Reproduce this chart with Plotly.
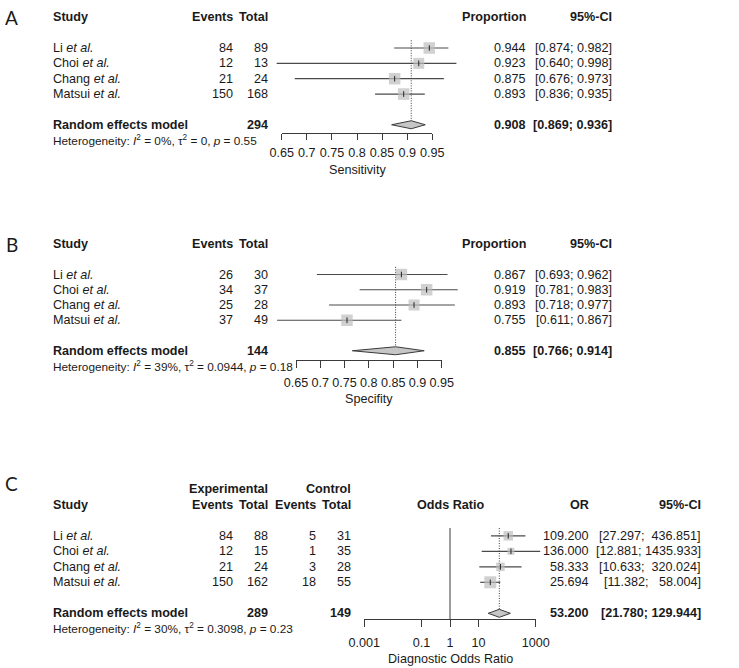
import plotly.graph_objects as go

W, H = 739, 668

# ------------------------------------------------------------------ data
studies = ["Li", "Choi", "Chang", "Matsui"]

# Panel A - sensitivity
sens_events = [84, 12, 21, 150]
sens_total = [89, 13, 24, 168]
sens_prop = [0.944, 0.923, 0.875, 0.893]
sens_lo = [0.874, 0.640, 0.676, 0.836]
sens_hi = [0.982, 0.998, 0.973, 0.935]
sens_pooled = [0.908, 0.869, 0.936]          # estimate, lower, upper
sens_n = 294
sens_het = ["0%", "0", "0.55"]               # I2, tau2, p

# Panel B - specificity
spec_events = [26, 34, 25, 37]
spec_total = [30, 37, 28, 49]
spec_prop = [0.867, 0.919, 0.893, 0.755]
spec_lo = [0.693, 0.781, 0.718, 0.611]
spec_hi = [0.962, 0.983, 0.977, 0.867]
spec_pooled = [0.855, 0.766, 0.914]
spec_n = 144
spec_het = ["39%", "0.0944", "0.18"]

# Panel C - diagnostic odds ratio
dor_exp_events = [84, 12, 21, 150]
dor_exp_total = [88, 15, 24, 162]
dor_ctl_events = [5, 1, 3, 18]
dor_ctl_total = [31, 35, 28, 55]
dor_or = [109.200, 136.000, 58.333, 25.694]
dor_lo = [27.297, 12.881, 10.633, 11.382]
dor_hi = [436.851, 1435.933, 320.024, 58.004]
dor_pooled = [53.200, 21.780, 129.944]
dor_exp_n = 289
dor_ctl_n = 149
dor_het = ["30%", "0.3098", "0.23"]
dor_null = 1

prop_ticks = [0.65, 0.70, 0.75, 0.80, 0.85, 0.90, 0.95]
prop_ticklabels = ["0.65", "0.7", "0.75", "0.8", "0.85", "0.9", "0.95"]
or_ticks = [0.001, 0.1, 1, 10, 1000]
or_ticklabels = ["0.001", "0.1", "1", "10", "1000"]

# ------------------------------------------------------------------ style
FONT = "Liberation Sans, Arial, Helvetica, sans-serif"
FS = 12.6
FS_HET = 11.8
TXT = "#1a1a1a"
LINE = "#3a3a3a"
CI_LINE = "#4a4a4a"
SQ = "#bdbdbd"
DIA = "#c6c6c6"

sq_size_A = [11.5, 11, 11.5, 11.5]
sq_size_B = [11.5, 11.5, 11, 11.5]
sq_size_C = [9.5, 7, 8.5, 12]

# panel geometry in pixels
panels = {
    "A": dict(first=48.0, step=15.35, ydom=(5, 185), xdom=(262, 470),
              ref_val=0.65, ref_px=281.7, ppu=502.0, log=False,
              ax_y=133.3, ax_range=(0.65, 0.95), ticklen=6, stand=2,
              title="Sensitivity", title_y=170.0),
    "B": dict(first=274.5, step=15.25, ydom=(228, 410), xdom=(270, 470),
              ref_val=0.65, ref_px=296.0, ppu=485.7, log=False,
              ax_y=360.0, ax_range=(0.65, 0.95), ticklen=6.5, stand=4,
              title="Specifity", title_y=399.0),
    "C": dict(first=535.8, step=15.5, ydom=(470, 666), xdom=(350, 560),
              ref_val=0.0, ref_px=450.0, ppu=28.57, log=True,
              ax_y=619.3, ax_range=(-3, 3), ticklen=7, stand=5,
              title="Diagnostic Odds Ratio", title_y=659.0),
}


def px_val(p, spec):
    return spec["ref_val"] + (p - spec["ref_px"]) / spec["ppu"]


def row_of(p, spec):
    return 1 + (p - spec["first"]) / spec["step"]


def val_px(v, spec):
    return spec["ref_px"] + (v - spec["ref_val"]) * spec["ppu"]


fig = go.Figure()
annotations = []
layout_axes = {}


def ann(text, xpx, row, yref, anchor="left", size=FS, bold=False):
    if bold:
        text = f"<b>{text}</b>"
    annotations.append(dict(
        text=text, x=xpx / W, xref="paper", y=row, yref=yref,
        xanchor=anchor, yanchor="middle", showarrow=False,
        font=dict(family=FONT, size=size, color=TXT)))


def het_text(vals):
    return (f"Heterogeneity: <i>I</i><sup>2</sup> = {vals[0]}, "
            f"τ<sup>2</sup> = {vals[1]}, <i>p</i> = {vals[2]}")


def ci_text(lo, hi, width=None):
    h = f"{hi:.3f}"
    if width:
        h = "\u00a0" * (width - len(h)) + h
    return f"[{lo:.3f};\u00a0{h}]"


def build_panel(idx, key, est, lo, hi, pooled, sizes):
    spec = panels[key]
    xa, ya = f"x{idx}", f"y{idx}"
    xd, yd = f"x{idx + 3}", f"y{idx + 3}"
    rows = list(range(1, len(est) + 1))
    pooled_row = len(est) + 2
    hh = 4.0 / spec["step"]

    # data axes
    x0, x1 = spec["xdom"]
    xrange = [px_val(x0, spec), px_val(x1, spec)]
    top, bot = spec["ydom"]
    layout_axes[f"xaxis{idx}"] = dict(
        domain=[x0 / W, x1 / W], range=xrange, visible=False,
        type="log" if spec["log"] else "linear", anchor=ya, fixedrange=True)
    layout_axes[f"yaxis{idx}"] = dict(
        domain=[1 - bot / H, 1 - top / H],
        range=[row_of(bot, spec), row_of(top, spec)],
        visible=False, anchor=xa, fixedrange=True)

    # display axis
    r0, r1 = spec["ax_range"]
    d0, d1 = val_px(r0, spec), val_px(r1, spec)
    yb = 1 - spec["ax_y"] / H
    layout_axes[f"xaxis{idx + 3}"] = dict(
        domain=[d0 / W, d1 / W], range=[r0, r1],
        type="log" if spec["log"] else "linear", anchor=yd,
        showline=True, linecolor=LINE, linewidth=1,
        ticks="outside", ticklen=spec["ticklen"], tickwidth=1, tickcolor=LINE,
        tickvals=or_ticks if spec["log"] else prop_ticks,
        ticktext=or_ticklabels if spec["log"] else prop_ticklabels,
        ticklabelstandoff=spec["stand"],
        tickfont=dict(family=FONT, size=FS, color=TXT),
        showgrid=False, zeroline=False, fixedrange=True, automargin=False)
    layout_axes[f"yaxis{idx + 3}"] = dict(
        domain=[yb, yb + 0.004], range=[0, 1], visible=False,
        anchor=xd, fixedrange=True)
    fig.add_trace(go.Scatter(
        x=[1 if spec["log"] else r0], y=[0.5], xaxis=xd, yaxis=yd,
        mode="markers", marker=dict(opacity=0), hoverinfo="skip",
        showlegend=False))

    # null line (panel C)
    if spec["log"]:
        fig.add_trace(go.Scatter(
            x=[dor_null, dor_null], y=[0.5, row_of(spec["ax_y"], spec)],
            xaxis=xa, yaxis=ya, mode="lines",
            line=dict(color=LINE, width=1), hoverinfo="skip", showlegend=False))

    # pooled estimate dotted line
    fig.add_trace(go.Scatter(
        x=[pooled[0], pooled[0]], y=[0.5, pooled_row - hh],
        xaxis=xa, yaxis=ya, mode="lines",
        line=dict(color=LINE, width=1, dash="1px,1.5px"),
        hoverinfo="skip", showlegend=False))

    # confidence intervals
    cx, cy = [], []
    for r, l, h in zip(rows, lo, hi):
        cx += [l, h, None]
        cy += [r, r, None]
    fig.add_trace(go.Scatter(
        x=cx, y=cy, xaxis=xa, yaxis=ya, mode="lines",
        line=dict(color=CI_LINE, width=1.2), hoverinfo="skip", showlegend=False))

    # squares
    fig.add_trace(go.Scatter(
        x=est, y=rows, xaxis=xa, yaxis=ya, mode="markers",
        marker=dict(symbol="square", size=sizes, color=SQ, line=dict(width=0)),
        cliponaxis=False, hoverinfo="skip", showlegend=False))
    # point ticks
    fig.add_trace(go.Scatter(
        x=est, y=rows, xaxis=xa, yaxis=ya, mode="markers",
        marker=dict(symbol="line-ns", size=4, color="#222",
                    line=dict(width=1, color="#222")),
        cliponaxis=False, hoverinfo="skip", showlegend=False))

    # diamond
    fig.add_trace(go.Scatter(
        x=[pooled[1], pooled[0], pooled[2], pooled[0], pooled[1]],
        y=[pooled_row, pooled_row - hh, pooled_row, pooled_row + hh, pooled_row],
        xaxis=xa, yaxis=ya, mode="lines", fill="toself", fillcolor=DIA,
        line=dict(color=LINE, width=1), hoverinfo="skip", showlegend=False))

    # axis title
    annotations.append(dict(
        text=spec["title"], x=(d0 + d1) / 2 / W, xref="paper",
        y=1 - spec["title_y"] / H, yref="paper", xanchor="center",
        yanchor="middle", showarrow=False,
        font=dict(family=FONT, size=FS, color=TXT)))
    return ya, pooled_row


# ------------------------------------------------------------------ panel A
ya, pr = build_panel(1, "A", sens_prop, sens_lo, sens_hi, sens_pooled, sq_size_A)
ann("A", 3, -1, ya, size=19)
annotations[-1]["font"]["family"] = "Lato, Noto Sans, sans-serif"
ann("Study", 51, -1, ya, bold=True)
ann("Events", 234.5, -1, ya, "right", bold=True)
ann("Total", 269.5, -1, ya, "right", bold=True)
ann("Proportion", 528, -1, ya, "right", bold=True)
ann("95%-CI", 613.5, -1, ya, "right", bold=True)
for i, s in enumerate(studies):
    r = i + 1
    ann(f"{s} <i>et al.</i>", 51, r, ya)
    ann(str(sens_events[i]), 234.5, r, ya, "right")
    ann(str(sens_total[i]), 269.5, r, ya, "right")
    ann(f"{sens_prop[i]:.3f}", 528, r, ya, "right")
    ann(ci_text(sens_lo[i], sens_hi[i]), 613.5, r, ya, "right")
ann("Random effects model", 51, pr, ya, bold=True)
ann(str(sens_n), 269.5, pr, ya, "right", bold=True)
ann(f"{sens_pooled[0]:.3f}", 528, pr, ya, "right", bold=True)
ann(ci_text(sens_pooled[1], sens_pooled[2]), 613.5, pr, ya, "right", bold=True)
ann(het_text(sens_het), 51, pr + 1, ya, size=FS_HET)

# ------------------------------------------------------------------ panel B
ya, pr = build_panel(2, "B", spec_prop, spec_lo, spec_hi, spec_pooled, sq_size_B)
ann("B", 4, -1, ya, size=19)
annotations[-1]["font"]["family"] = "Lato, Noto Sans, sans-serif"
ann("Study", 51, -1, ya, bold=True)
ann("Events", 234.5, -1, ya, "right", bold=True)
ann("Total", 269.5, -1, ya, "right", bold=True)
ann("Proportion", 528, -1, ya, "right", bold=True)
ann("95%-CI", 613.5, -1, ya, "right", bold=True)
for i, s in enumerate(studies):
    r = i + 1
    ann(f"{s} <i>et al.</i>", 51, r, ya)
    ann(str(spec_events[i]), 234.5, r, ya, "right")
    ann(str(spec_total[i]), 269.5, r, ya, "right")
    ann(f"{spec_prop[i]:.3f}", 528, r, ya, "right")
    ann(ci_text(spec_lo[i], spec_hi[i]), 613.5, r, ya, "right")
ann("Random effects model", 51, pr, ya, bold=True)
ann(str(spec_n), 269.5, pr, ya, "right", bold=True)
ann(f"{spec_pooled[0]:.3f}", 528, pr, ya, "right", bold=True)
ann(ci_text(spec_pooled[1], spec_pooled[2]), 613.5, pr, ya, "right", bold=True)
ann(het_text(spec_het), 51, pr + 1, ya, size=FS_HET)

# ------------------------------------------------------------------ panel C
ya, pr = build_panel(3, "C", dor_or, dor_lo, dor_hi, dor_pooled, sq_size_C)
ann("C", 3, -2.4, ya, size=19)
annotations[-1]["font"]["family"] = "Lato, Noto Sans, sans-serif"
ann("Experimental", 270, -2, ya, "right", bold=True)
ann("Control", 352.7, -2, ya, "right", bold=True)
ann("Study", 51, -1, ya, bold=True)
ann("Events", 235, -1, ya, "right", bold=True)
ann("Total", 270, -1, ya, "right", bold=True)
ann("Events", 318.3, -1, ya, "right", bold=True)
ann("Total", 352.7, -1, ya, "right", bold=True)
ann("Odds Ratio", 450, -1, ya, "center", bold=True)
ann("OR", 590.7, -1, ya, "right", bold=True)
ann("95%-CI", 702.7, -1, ya, "right", bold=True)
hw = max(len(f"{h:.3f}") for h in dor_hi)
for i, s in enumerate(studies):
    r = i + 1
    ann(f"{s} <i>et al.</i>", 51, r, ya)
    ann(str(dor_exp_events[i]), 235, r, ya, "right")
    ann(str(dor_exp_total[i]), 270, r, ya, "right")
    ann(str(dor_ctl_events[i]), 318.3, r, ya, "right")
    ann(str(dor_ctl_total[i]), 352.7, r, ya, "right")
    ann(f"{dor_or[i]:.3f}", 590.7, r, ya, "right")
    ann(ci_text(dor_lo[i], dor_hi[i], hw), 702.7, r, ya, "right")
ann("Random effects model", 51, pr, ya, bold=True)
ann(str(dor_exp_n), 270, pr, ya, "right", bold=True)
ann(str(dor_ctl_n), 352.7, pr, ya, "right", bold=True)
ann(f"{dor_pooled[0]:.3f}", 590.7, pr, ya, "right", bold=True)
ann(ci_text(dor_pooled[1], dor_pooled[2]), 702.7, pr, ya, "right", bold=True)
ann(het_text(dor_het), 51, pr + 1, ya, size=FS_HET)

fig.update_layout(
    width=W, height=H, autosize=False,
    margin=dict(l=0, r=0, t=0, b=0, pad=0, autoexpand=False),
    paper_bgcolor="white", plot_bgcolor="rgba(0,0,0,0)",
    showlegend=False, annotations=annotations,
    font=dict(family=FONT, size=FS, color=TXT),
    **layout_axes)

fig.write_html(
    "out.html",
    config={"responsive": False, "displayModeBar": False},
    post_script="document.body.style.margin='0px';"
                "document.body.style.overflow='hidden';")
